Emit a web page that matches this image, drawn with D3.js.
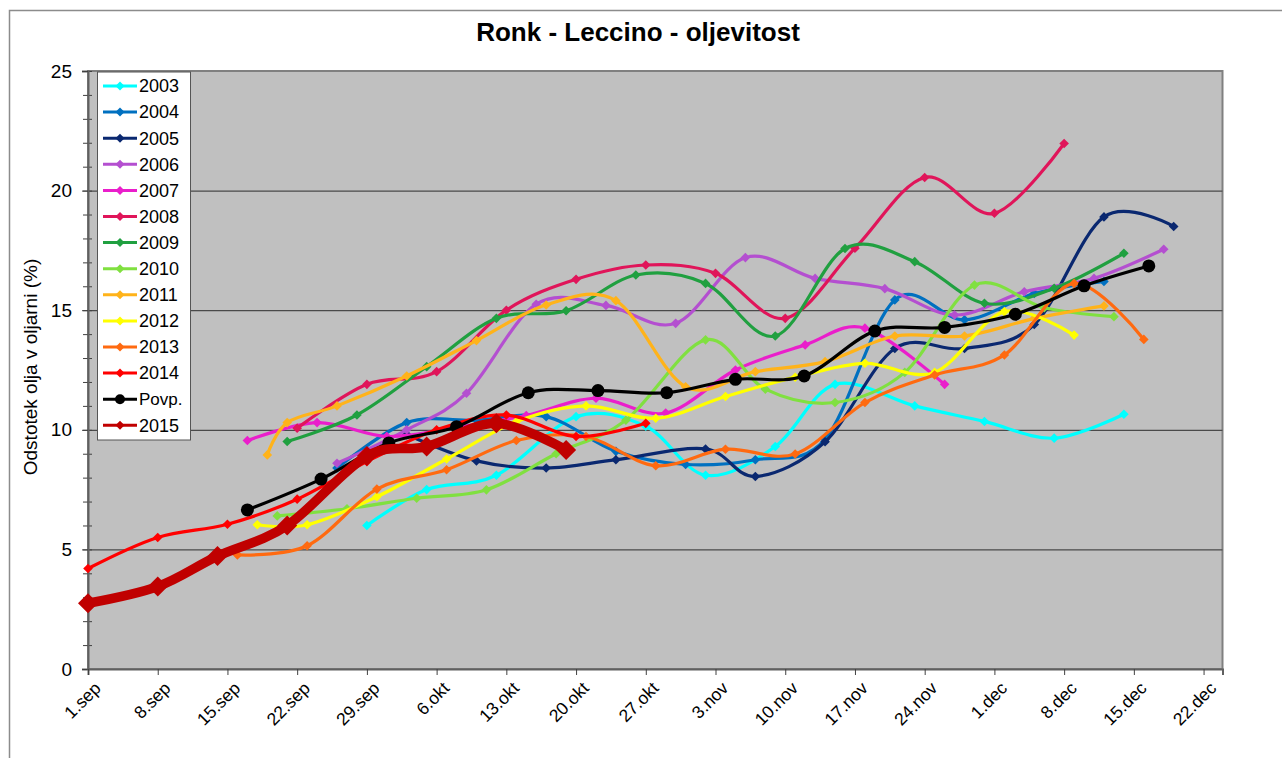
<!DOCTYPE html>
<html>
<head>
<meta charset="utf-8">
<script src="https://cdn.jsdelivr.net/npm/d3@7"></script>
<style>
	body { margin: 0; background: #fff; }
	text { font-family: "Liberation Sans", Arial, sans-serif; fill: #000; }
</style>
</head>
<body>
<svg id="chart" width="1282" height="758"></svg>
<script>

// TICK LABELS (x = days after 1.sep, one tick per week)
const xLabels = ["1.sep", "8.sep", "15.sep", "22.sep", "29.sep", "6.okt", "13.okt", "20.okt",
	"27.okt", "3.nov", "10.nov", "17.nov", "24.nov", "1.dec", "8.dec", "15.dec", "22.dec"];
const yTicks = [0, 5, 10, 15, 20, 25];

// SERIES
const seriesNames = ["2003", "2004", "2005", "2006", "2007", "2008", "2009", "2010",
	"2011", "2012", "2013", "2014", "Povp.", "2015"];
const seriesColors = ["#00FFFF", "#0070C0", "#0A2870", "#B44FD0", "#EA1ECB", "#E0155A", "#20A040",
	"#80E040", "#FFB31A", "#FFFF00", "#FF6A10", "#FF0000", "#000000", "#C00000"];

const days2003 = [28, 34, 41, 49, 56, 62, 69, 75, 83, 90, 97, 104];
const vals2003 = [6.0, 7.5, 8.1, 10.55, 10.15, 8.1, 9.3, 11.9, 11.0, 10.35, 9.65, 10.65];

const days2004 = [25, 32, 39, 46, 53, 60, 67, 74, 81, 88, 95, 102];
const vals2004 = [8.4, 10.3, 10.4, 10.55, 9.1, 8.55, 8.75, 9.6, 15.43, 14.6, 15.7, 16.2];

const days2005 = [32, 39, 46, 53, 62, 67, 74, 81, 88, 95, 102, 109];
const vals2005 = [9.8, 8.7, 8.4, 8.75, 9.2, 8.05, 9.5, 13.4, 13.4, 14.4, 18.9, 18.5];

const days2006 = [25, 32, 38, 45, 52, 59, 66, 73, 80, 87, 94, 101, 108];
const vals2006 = [8.6, 10.0, 11.53, 15.25, 15.2, 14.45, 17.2, 16.33, 15.9, 14.8, 15.77, 16.33, 17.55];

const days2007 = [16, 23, 30, 37, 44, 51, 58, 65, 72, 78, 86];
const vals2007 = [9.55, 10.3, 9.72, 10.1, 10.6, 11.32, 10.7, 12.5, 13.55, 14.25, 11.9];

const days2008 = [21, 28, 35, 42, 49, 56, 63, 70, 77, 84, 91, 98];
const vals2008 = [10.07, 11.9, 12.43, 15.0, 16.29, 16.89, 16.54, 14.66, 17.59, 20.55, 19.05, 21.97];

const days2009 = [20, 27, 34, 41, 48, 55, 62, 69, 76, 83, 90, 97, 104];
const vals2009 = [9.51, 10.62, 12.64, 14.66, 14.98, 16.47, 16.12, 13.92, 17.58, 17.03, 15.29, 15.92, 17.38];

const days2010 = [19, 26, 33, 40, 47, 54, 62, 68, 75, 82, 89, 96, 103];
const vals2010 = [6.4, 6.7, 7.14, 7.49, 9.0, 10.4, 13.76, 11.7, 11.14, 12.4, 16.05, 15.1, 14.73];

const days2011 = [18, 20, 25, 32, 39, 46, 53, 60, 67, 74, 81, 88, 95, 102];
const vals2011 = [8.95, 10.3, 11.0, 12.25, 13.73, 15.22, 15.4, 11.8, 12.43, 12.85, 13.92, 13.92, 14.65, 15.18];

const days2012 = [17, 22, 29, 36, 43, 50, 57, 64, 71, 78, 85, 92, 99];
const vals2012 = [6.03, 6.03, 7.2, 8.78, 10.34, 11.0, 10.48, 11.39, 12.2, 12.78, 12.4, 14.94, 13.96];

const days2013 = [15, 22, 29, 36, 43, 50, 57, 64, 71, 78, 85, 92, 99, 106];
const vals2013 = [4.77, 5.15, 7.52, 8.33, 9.55, 9.72, 8.5, 9.19, 8.99, 11.14, 12.29, 13.13, 16.12, 13.78];

const days2014 = [0, 7, 14, 21, 28, 35, 42, 49, 56];
const vals2014 = [4.2, 5.5, 6.05, 7.1, 8.67, 10.0, 10.62, 9.72, 10.27];

const daysPovp = [16, 23.4, 30.2, 37, 44.2, 51.2, 58.1, 65, 71.9, 79, 86, 93.1, 100, 106.5];
const valsPovp = [6.65, 7.94, 9.45, 10.13, 11.55, 11.64, 11.55, 12.11, 12.25, 14.13, 14.28, 14.83, 16.02, 16.85];

const days2015 = [0, 7, 13, 20, 28, 34, 41, 48];
const vals2015 = [2.75, 3.45, 4.72, 6.0, 8.9, 9.3, 10.27, 9.16];

const seriesDays = [days2003, days2004, days2005, days2006, days2007, days2008, days2009,
	days2010, days2011, days2012, days2013, days2014, daysPovp, days2015];
const seriesVals = [vals2003, vals2004, vals2005, vals2006, vals2007, vals2008, vals2009,
	vals2010, vals2011, vals2012, vals2013, vals2014, valsPovp, vals2015];


// SVG + PLOT AREA
const svg = d3.select("#chart");
const plot = { left: 88, top: 71, right: 1222.5, bottom: 669 };

// chart border
svg.append("rect")
	.attr("x", 9.5).attr("y", 10.5)
	.attr("width", 1400).attr("height", 900)
	.attr("fill", "#fff")
	.attr("stroke", "#8c8c8c")
	.attr("stroke-width", 1.5);

// SCALES
const x = d3.scaleLinear().domain([0, 113.9]).range([plot.left, plot.right]);
const y = d3.scaleLinear().domain([0, 25]).range([plot.bottom, plot.top]);

// plot background
svg.append("rect")
	.attr("x", plot.left).attr("y", plot.top)
	.attr("width", plot.right - plot.left).attr("height", plot.bottom - plot.top)
	.attr("fill", "#C0C0C0")
	.attr("stroke", "#808080")
	.attr("stroke-width", 2);

// gridlines
svg.append("g")
	.attr("transform", `translate(${plot.left},0)`)
	.call(d3.axisLeft(y).tickValues([5, 10, 15, 20]).tickSize(-(plot.right - plot.left)).tickFormat(""))
	.call(g => g.select(".domain").remove())
	.call(g => g.selectAll("line").attr("stroke", "#4a4a4a").attr("stroke-width", 1.2));

// minor ticks (crossing the axis)
svg.append("g")
	.attr("transform", `translate(${plot.left + 4},0)`)
	.call(d3.axisLeft(y).tickValues(d3.range(0, 26)).tickSize(9).tickFormat(""))
	.call(g => g.select(".domain").remove())
	.call(g => g.selectAll("line").attr("stroke", "#404040"));

// y axis
svg.append("g")
	.attr("transform", `translate(${plot.left},0)`)
	.call(d3.axisLeft(y).tickValues(yTicks).tickSize(6).tickPadding(10))
	.call(g => g.select(".domain").attr("stroke", "#606060").attr("stroke-width", 2))
	.call(g => g.selectAll("line").attr("stroke", "#404040"))
	.call(g => g.selectAll("text").attr("font-size", 19).attr("fill", "#000"));

// x axis
svg.append("g")
	.attr("transform", `translate(0,${plot.bottom})`)
	.call(d3.axisBottom(x).tickValues(d3.range(0, 113, 7)).tickSize(6)
		.tickFormat((d, i) => xLabels[i]))
	.call(g => g.select(".domain").attr("stroke", "#606060").attr("stroke-width", 2))
	.call(g => g.selectAll("line").attr("stroke", "#404040"))
	.call(g => g.selectAll("text")
		.attr("font-size", 17.5)
		.attr("fill", "#000")
		.attr("text-anchor", "end")
		.attr("dy", 0)
		.attr("transform", "translate(7,14) rotate(-45)"));

// TITLES
svg.append("text")
	.attr("x", 638).attr("y", 41)
	.attr("text-anchor", "middle")
	.attr("font-size", 26).attr("font-weight", "bold")
	.text("Ronk - Leccino - oljevitost");

svg.append("text")
	.attr("transform", "translate(37,367) rotate(-90)")
	.attr("text-anchor", "middle")
	.attr("font-size", 19)
	.text("Odstotek olja v oljarni (%)");


// LINES
const line = d3.line()
	.x(d => x(d[0]))
	.y(d => y(d[1]))
	.curve(d3.curveCardinal.tension(0));

const diamond = r => `M0,${-r}L${r},0L0,${r}L${-r},0Z`;

function styleOf(name) {
	if (name === "2015") return { width: 9.5, marker: "diamond", size: 10 };
	if (name === "Povp.") return { width: 3.2, marker: "circle", size: 6.5 };
	return { width: 3.2, marker: "diamond", size: 4.8 };
}

seriesNames.forEach((name, i) => {
	const pts = seriesDays[i].map((d, j) => [d, seriesVals[i][j]]);
	const st = styleOf(name);
	const g = svg.append("g");
	g.append("path")
		.attr("d", line(pts))
		.attr("fill", "none")
		.attr("stroke", seriesColors[i])
		.attr("stroke-width", st.width)
		.attr("stroke-linejoin", "round");
	if (st.marker === "circle") {
		g.selectAll("circle").data(pts).enter().append("circle")
			.attr("cx", d => x(d[0])).attr("cy", d => y(d[1]))
			.attr("r", st.size)
			.attr("fill", seriesColors[i]);
	} else {
		g.selectAll("path.m").data(pts).enter().append("path")
			.attr("class", "m")
			.attr("transform", d => `translate(${x(d[0])},${y(d[1])})`)
			.attr("d", diamond(st.size))
			.attr("fill", seriesColors[i]);
	}
});


// LEGEND
const legend = svg.append("g");
legend.append("rect")
	.attr("x", 97.5).attr("y", 72)
	.attr("width", 93).attr("height", 368)
	.attr("fill", "#fff")
	.attr("stroke", "#555")
	.attr("stroke-width", 1);

seriesNames.forEach((name, i) => {
	const ly = 86 + i * 26.1;
	legend.append("line")
		.attr("x1", 103).attr("x2", 137)
		.attr("y1", ly).attr("y2", ly)
		.attr("stroke", seriesColors[i])
		.attr("stroke-width", 3);
	if (name === "Povp.") {
		legend.append("circle").attr("cx", 120).attr("cy", ly).attr("r", 5).attr("fill", seriesColors[i]);
	} else {
		legend.append("path")
			.attr("transform", `translate(120,${ly})`)
			.attr("d", diamond(4.5))
			.attr("fill", seriesColors[i]);
	}
	legend.append("text")
		.attr("x", 139).attr("y", ly)
		.attr("dy", "0.35em")
		.attr("font-size", name === "Povp." ? 17 : 18)
		.text(name);
});

</script>
</body>
</html>
